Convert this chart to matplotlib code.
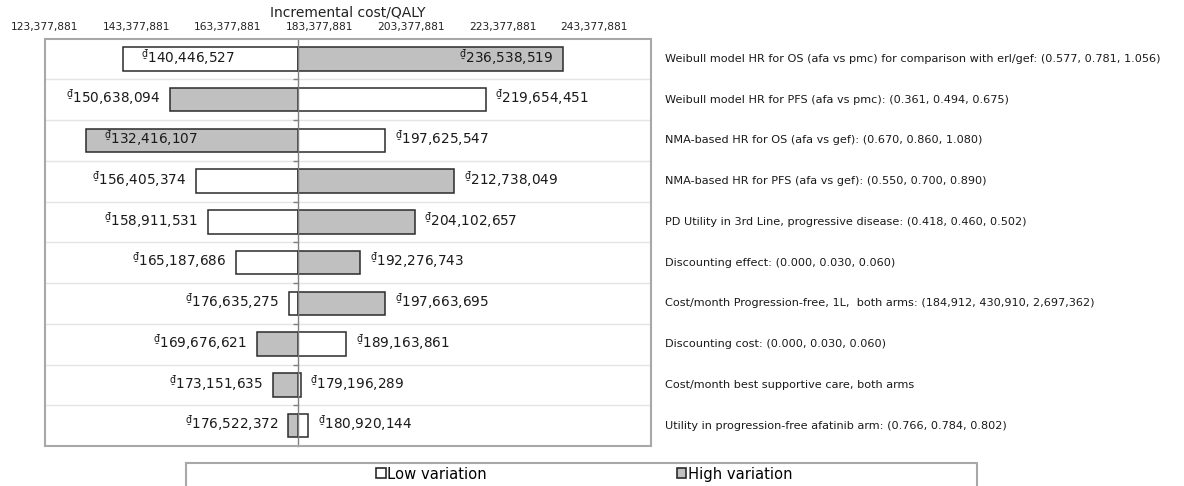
import matplotlib
matplotlib.use("Agg")
import matplotlib.pyplot as plt
from matplotlib.patches import Rectangle, Patch

# ---------------- data ----------------
parameters = [
    "Weibull model HR for OS (afa vs pmc) for comparison with erl/gef: (0.577, 0.781, 1.056)",
    "Weibull model HR for PFS (afa vs pmc): (0.361, 0.494, 0.675)",
    "NMA-based HR for OS (afa vs gef): (0.670, 0.860, 1.080)",
    "NMA-based HR for PFS (afa vs gef): (0.550, 0.700, 0.890)",
    "PD Utility in 3rd Line, progressive disease: (0.418, 0.460, 0.502)",
    "Discounting effect: (0.000, 0.030, 0.060)",
    "Cost/month Progression-free, 1L,  both arms: (184,912, 430,910, 2,697,362)",
    "Discounting cost: (0.000, 0.030, 0.060)",
    "Cost/month best supportive care, both arms",
    "Utility in progression-free afatinib arm: (0.766, 0.784, 0.802)",
]
low_variation = [140446527, 219654451, 197625547, 156405374, 158911531,
                 165187686, 176635275, 189163861, 179196289, 180920144]
high_variation = [236538519, 150638094, 132416107, 212738049, 204102657,
                  192276743, 197663695, 169676621, 173151635, 176522372]
base_icer = 178600000
tick_values = [123377881, 143377881, 163377881, 183377881,
               203377881, 223377881, 243377881]
x_limits = (123377881, 255700000)
axis_title = "Incremental cost/QALY"
legend_labels = ["Low variation", "High variation"]
currency = "\u20ab"

# ---------------- style ----------------
FONT = "DejaVu Sans"
plt.rcParams["font.family"] = [FONT]
plt.rcParams["mathtext.fontset"] = "dejavusans"
GRAY = "#c0c0c0"
EDGE = "#2b2b2b"
FRAME = "#a8a8a8"
W, H = 1184, 486
fig = plt.figure(figsize=(W / 100, H / 100), dpi=100)
ax = fig.add_axes([45 / W, 1 - 446 / H, (650.7 - 45) / W, (446 - 38.5) / H])

n = len(parameters)
ypos = [n - 1 - i for i in range(n)]
bar_h = 0.58

for y, lo, hi in zip(ypos, low_variation, high_variation):
    ax.barh(y, lo - base_icer, left=base_icer, height=bar_h,
            facecolor="white", edgecolor=EDGE, linewidth=1.1, zorder=3)
    ax.barh(y, hi - base_icer, left=base_icer, height=bar_h,
            facecolor=GRAY, edgecolor=EDGE, linewidth=1.1, zorder=3)

ax.set_xlim(*x_limits)
ax.set_ylim(-0.5, n - 0.5)

# x axis on top
ax.xaxis.tick_top()
ax.set_xticks(tick_values)
ax.set_xticklabels([f"{v:,}" for v in tick_values], fontsize=7.7, color="#222222")
ax.tick_params(axis="x", length=0, pad=5)

# y axis: the central line at base value with boundary ticks
for s in ["top", "right", "bottom"]:
    ax.spines[s].set_visible(False)
ax.spines["left"].set_position(("data", base_icer))
ax.spines["left"].set_color("#808080")
ax.spines["left"].set_linewidth(1.0)
ax.spines["left"].set_zorder(4)
bounds = [b + 0.5 for b in range(n - 1)]
ax.set_yticks(bounds)
ax.set_yticklabels([])
ax.tick_params(axis="y", length=3.5, color="#808080", width=1.0, direction="out")
ax.grid(axis="y", color="#e4e4e4", linewidth=1.0, zorder=0)
ax.set_axisbelow(True)

# plot-area frame
ax.add_patch(Rectangle((0, 0), 1, 1, transform=ax.transAxes, fill=False,
                       edgecolor=FRAME, linewidth=1.5, clip_on=False, zorder=5))

# title
fig.text((45 + 650.7) / 2 / W, 1 - 12 / H, axis_title, ha="center", va="center",
         fontsize=10, color="#222222")

# value labels
fig.canvas.draw()
renderer = fig.canvas.get_renderer()
abox = ax.get_window_extent(renderer)
gap = 7.0
dy = 1.5
for y, lo, hi in zip(ypos, low_variation, high_variation):
    for v in (lo, hi):
        right = v >= base_icer
        t = ax.annotate(f"$^{{{currency}}}${v:,}", xy=(v, y),
                        xytext=(gap if right else -gap, dy), textcoords="offset points",
                        ha="left" if right else "right", va="center",
                        fontsize=9.8, color="#1a1a1a", zorder=6)
        bb = t.get_window_extent(renderer)
        if right and bb.x1 > abox.x1:
            t.set_position((-gap, dy)); t.set_ha("right")
        elif (not right) and bb.x0 < abox.x0:
            t.set_position((gap + 6, dy)); t.set_ha("left")

# parameter labels on the right
for y, p in zip(ypos, parameters):
    ax.annotate(p, xy=(1, y), xycoords=("axes fraction", "data"),
                xytext=(10, 0), textcoords="offset points",
                ha="left", va="center", fontsize=8.1, color="#1a1a1a",
                annotation_clip=False)

# legend box and entries
fig.patches.append(Rectangle((186 / W, -0.02), (977 - 186) / W, 0.02 + 1 - 463 / H,
                             transform=fig.transFigure, fill=False,
                             edgecolor=FRAME, linewidth=1.5))
handles = [Patch(facecolor="white", edgecolor=EDGE, linewidth=1.2),
           Patch(facecolor=GRAY, edgecolor=EDGE, linewidth=1.2)]
fig.legend(handles, legend_labels, loc="center", ncol=2,
           bbox_to_anchor=(584 / W, 1 - 474 / H), frameon=False,
           fontsize=10.6, handlelength=0.65, handleheight=0.65,
           handletextpad=0.1, columnspacing=12.9, borderpad=0)

fig.savefig("out.png", dpi=100)
